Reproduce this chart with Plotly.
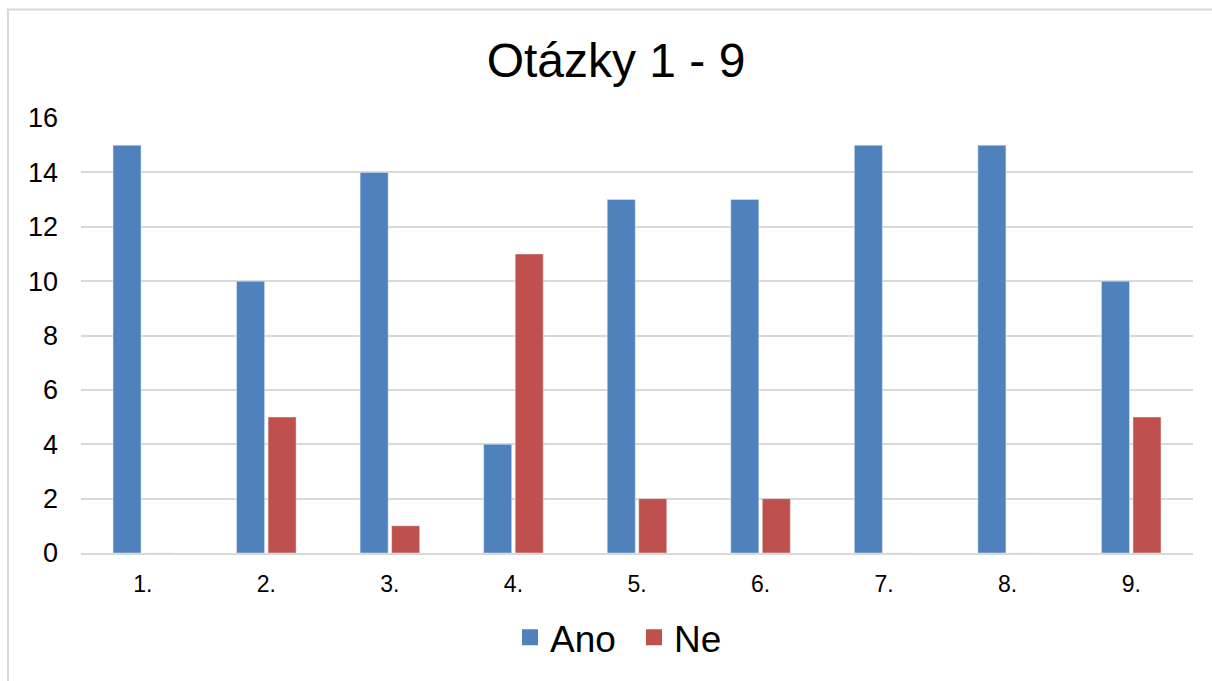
import plotly.graph_objects as go

categories = ["1.", "2.", "3.", "4.", "5.", "6.", "7.", "8.", "9."]
ano = [15, 10, 14, 4, 13, 13, 15, 15, 10]
ne = [0, 5, 1, 11, 2, 2, 0, 0, 5]
y_ticks = [0, 2, 4, 6, 8, 10, 12, 14, 16]
series_names = ["Ano", "Ne"]
series_colors = ["#4F81BD", "#C0504D"]

fig = go.Figure()
for name, vals, col in zip(series_names, [ano, ne], series_colors):
    fig.add_trace(go.Bar(name=name, x=categories, y=vals, marker_color=col, showlegend=False))
# legend swatches (larger squares than Plotly's bar legend)
for name, col in zip(series_names, series_colors):
    fig.add_trace(go.Scatter(name=name, x=[None], y=[None], mode="markers",
                             marker=dict(symbol="square", size=20, color=col), showlegend=True))

W, H = 1212, 681
l, r, t, b = 81, 19, 118, 126
ph = H - t - b
pw = W - l - r
fig.update_layout(
    width=W, height=H,
    margin=dict(l=l, r=r, t=t, b=b),
    paper_bgcolor="white", plot_bgcolor="white",
    font=dict(family="Liberation Sans, Arial, sans-serif", color="black"),
    title=dict(text="Otázky 1 - 9", x=616 / W, xanchor="center", y=1 - 60 / H, yanchor="middle",
               font=dict(size=48, color="black")),
    barmode="group", bargap=0.49, bargroupgap=0.11,
    showlegend=True,
    legend=dict(orientation="h", x=(510 - l) / pw, xanchor="left", y=-(640 - (H - b)) / ph,
                yanchor="middle", font=dict(size=37), itemsizing="trace", traceorder="normal",
                itemwidth=30, entrywidth=79),
    xaxis=dict(showline=True, linecolor="#D9D9D9", linewidth=2, ticks="", tickfont=dict(size=23),
               showgrid=False, ticklabelstandoff=9),
    yaxis=dict(range=[0, 16], tickvals=y_ticks, showgrid=True, gridcolor="#D9D9D9", gridwidth=1.5,
               zeroline=False, ticks="", tickfont=dict(size=27), ticklabelstandoff=22),
    shapes=[dict(type="rect", xref="paper", yref="paper",
                 x0=-(l - 8) / pw, x1=1.1, y0=-0.5, y1=1 + (t - 9) / ph,
                 line=dict(color="#D9D9D9", width=2), fillcolor="rgba(0,0,0,0)", layer="below")],
)
fig.write_html("out.html", config={"displayModeBar": False},
               post_script="document.body.style.margin='0';document.body.style.overflow='hidden';")
